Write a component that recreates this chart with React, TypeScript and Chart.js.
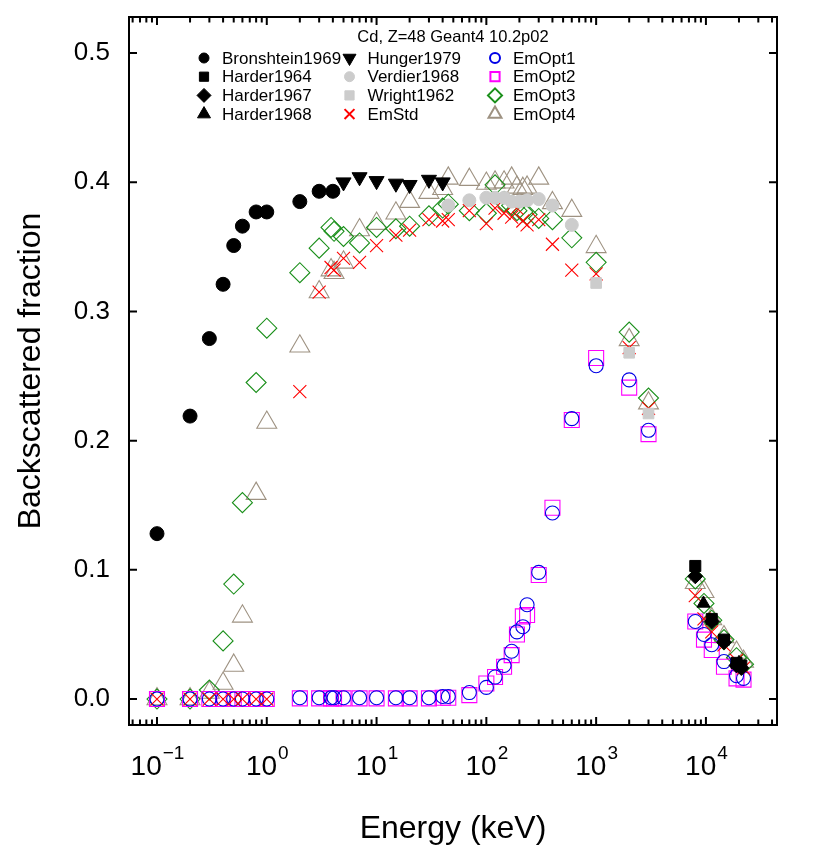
import React, { useEffect, useRef } from 'react';
import { Chart, registerables } from 'chart.js';
import { drawPoint } from 'chart.js/helpers';

Chart.register(...registerables);

const FONT = '"Liberation Sans", Arial, Helvetica, sans-serif';
const TITLE = 'Cd, Z=48 Geant4 10.2p02';

// ---------- experimental data ----------
const bronshteinE = [0.1, 0.2, 0.3, 0.4, 0.5, 0.6, 0.8, 1, 2, 3, 4];
const bronshteinY = [0.128, 0.219, 0.279, 0.321, 0.351, 0.366, 0.377, 0.377, 0.385, 0.393, 0.393];

const harder1964E = [8000, 11300, 14600, 19000, 21000];
const harder1964Y = [0.103, 0.062, 0.046, 0.028, 0.026];

const harder1967E = [8000, 11300, 14600, 19000, 21000];
const harder1967Y = [0.095, 0.060, 0.044, 0.026, 0.024];

const harder1968E = [9500, 20000];
const harder1968Y = [0.074, 0.028];

const hungerE = [5, 7, 10, 15, 20, 30, 40];
const hungerY = [0.400, 0.404, 0.401, 0.399, 0.398, 0.402, 0.400];

const verdierE = [45, 70, 100, 120, 145, 170, 200, 235, 300, 400, 600];
const verdierY = [0.382, 0.386, 0.388, 0.388, 0.388, 0.385, 0.385, 0.386, 0.387, 0.382, 0.367];

const wrightE = [1000, 2000, 3000];
const wrightY = [0.322, 0.268, 0.221];

// ---------- simulations ----------
const simE = [
  0.1, 0.2, 0.3, 0.4, 0.5, 0.6, 0.8, 1,
  2, 3, 3.85, 4.1, 5, 7, 10, 15, 20, 30, 40, 45,
  70, 100, 120, 145, 170, 190, 215, 235, 300, 400, 600, 1000, 2000, 3000,
  8000, 9600, 11300, 14600, 19000, 22000,
];
const emStdY = [
  0, 0, 0, 0, 0, 0, 0, 0,
  0.238, 0.315, 0.334, 0.332, 0.341, 0.338, 0.351, 0.359, 0.363, 0.371, 0.370, 0.371,
  0.378, 0.368, 0.380, 0.376, 0.373, 0.380, 0.370, 0.367, 0.371, 0.352, 0.332, 0.329, 0.272, 0.225,
  0.080, 0.062, 0.052, 0.042, 0.030, 0.024,
];
const emOpt1Y = [
  0, 0, 0, 0, 0, 0, 0, 0,
  0.001, 0.001, 0.001, 0.001, 0.001, 0.001, 0.001, 0.001, 0.001, 0.001, 0.002, 0.002,
  0.005, 0.009, 0.017, 0.026, 0.037, 0.052, 0.056, 0.073, 0.098, 0.144, 0.217, 0.258, 0.247, 0.208,
  0.060, 0.050, 0.042, 0.029, 0.018, 0.016,
];
const emOpt2Y = [
  0, 0, 0, 0, 0, 0, 0, 0,
  0.0005, 0.0005, 0.0005, 0.0005, 0.0005, 0.0005, 0.0005, 0.0005, 0.0005, 0.0005, 0.001, 0.001,
  0.003, 0.012, 0.017, 0.025, 0.034, 0.050, 0.064, 0.065, 0.096, 0.148, 0.216, 0.264, 0.241, 0.205,
  0.060, 0.046, 0.038, 0.025, 0.016, 0.015,
];
const emOpt3Y = [
  0, 0, 0.007, 0.045, 0.089, 0.152, 0.245, 0.287,
  0.330, 0.349, 0.365, 0.362, 0.358, 0.353, 0.365, 0.364, 0.366, 0.374, 0.380, 0.383,
  0.378, 0.376, 0.398, 0.385, 0.382, 0.378, 0.377, 0.375, 0.372, 0.371, 0.357, 0.338, 0.284, 0.233,
  0.093, 0.074, 0.061, 0.046, 0.032, 0.027,
];
const emOpt4Y = [
  0, 0, 0.005, 0.012, 0.026, 0.064, 0.159, 0.214,
  0.273, 0.315, 0.332, 0.330, 0.338, 0.363, 0.368, 0.376, 0.385, 0.392, 0.395, 0.403,
  0.402, 0.399, 0.400, 0.400, 0.403, 0.396, 0.395, 0.396, 0.403, 0.384, 0.378, 0.350, 0.278, 0.229,
  0.090, 0.083, 0.062, 0.048, 0.036, 0.029,
];

// ---------- axes ----------
const xMin = 0.0556;
const xMax = 44400;
const yMin = -0.0201;
const yMax = 0.5279;
const xDecades = [0.1, 1, 10, 100, 1000, 10000];
const xExponents = ['\u22121', '0', '1', '2', '3', '4'];
const yTicks = [0, 0.1, 0.2, 0.3, 0.4, 0.5];

const pts = (E: number[], Y: number[]) => E.map((e, i) => ({ x: e, y: Y[i] }));

const BLUE = '#0000e6';
const MAGENTA = '#ff00ff';
const GREEN = '#1a8f1a';
const TAN = '#9e9282';
const GREY = '#cccccc';
const RED = '#ff0000';

type Spec = {
  label: string; E: number[]; Y: number[]; style: string; r: number; rot?: number;
  color: string; filled: boolean; lw: number; lr: number;
};

const specs: Spec[] = [
  { label: 'Bronshtein1969', E: bronshteinE, Y: bronshteinY, style: 'circle', r: 7, color: '#000', filled: true, lw: 1, lr: 5 },
  { label: 'Harder1964', E: harder1964E, Y: harder1964Y, style: 'rect', r: 7.8, color: '#000', filled: true, lw: 1, lr: 6.5 },
  { label: 'Harder1967', E: harder1967E, Y: harder1967Y, style: 'rectRot', r: 7.5, color: '#000', filled: true, lw: 1, lr: 7 },
  { label: 'Harder1968', E: harder1968E, Y: harder1968Y, style: 'triangle', r: 7.5, color: '#000', filled: true, lw: 1, lr: 7.5 },
  { label: 'Hunger1979', E: hungerE, Y: hungerY, style: 'triangle', rot: 180, r: 8.7, color: '#000', filled: true, lw: 1, lr: 7.5 },
  { label: 'Verdier1968', E: verdierE, Y: verdierY, style: 'circle', r: 6.5, color: GREY, filled: true, lw: 1, lr: 5 },
  { label: 'Wright1962', E: wrightE, Y: wrightY, style: 'rect', r: 7.5, color: GREY, filled: true, lw: 1, lr: 6.5 },
  { label: 'EmStd', E: simE, Y: emStdY, style: 'crossRot', r: 9.2, color: RED, filled: false, lw: 1.1, lr: 7 },
  { label: 'EmOpt1', E: simE, Y: emOpt1Y, style: 'circle', r: 7, color: BLUE, filled: false, lw: 1.1, lr: 5 },
  { label: 'EmOpt2', E: simE, Y: emOpt2Y, style: 'rect', r: 10.6, color: MAGENTA, filled: false, lw: 1.1, lr: 6.5 },
  { label: 'EmOpt3', E: simE, Y: emOpt3Y, style: 'rectRot', r: 10, color: GREEN, filled: false, lw: 1.1, lr: 7 },
  { label: 'EmOpt4', E: simE, Y: emOpt4Y, style: 'triangle', r: 11.5, color: TAN, filled: false, lw: 1.1, lr: 7.5 },
];

const framePlugin = {
  id: 'frame',
  afterDraw(chart: any) {
    const ctx = chart.ctx as CanvasRenderingContext2D;
    const ca = chart.chartArea;
    const xs = chart.scales.x;
    const ys = chart.scales.y;
    ctx.save();
    ctx.strokeStyle = '#000';
    ctx.lineWidth = 2;
    // x ticks (inward, bottom & top)
    xs.ticks.forEach((t: any) => {
      const px = xs.getPixelForValue(t.value);
      const lg = Math.log10(t.value);
      const major = Math.abs(lg - Math.round(lg)) < 1e-6;
      const len = major ? 8 : 5.5;
      ctx.beginPath();
      ctx.moveTo(px, ca.bottom); ctx.lineTo(px, ca.bottom - len);
      ctx.moveTo(px, ca.top); ctx.lineTo(px, ca.top + len);
      ctx.stroke();
    });
    ys.ticks.forEach((t: any) => {
      const py = ys.getPixelForValue(t.value);
      ctx.beginPath();
      ctx.moveTo(ca.left, py); ctx.lineTo(ca.left + 8, py);
      ctx.moveTo(ca.right, py); ctx.lineTo(ca.right - 8, py);
      ctx.stroke();
    });
    ctx.strokeRect(ca.left, ca.top, ca.right - ca.left, ca.bottom - ca.top);

    // x labels 10^n
    ctx.fillStyle = '#000';
    ctx.textBaseline = 'alphabetic';
    ctx.textAlign = 'left';
    xDecades.forEach((v, i) => {
      const px = xs.getPixelForValue(v);
      ctx.font = `28px ${FONT}`;
      const w1 = ctx.measureText('10').width;
      ctx.font = `19px ${FONT}`;
      const w2 = ctx.measureText(xExponents[i]).width;
      const x0 = px - (w1 + w2) / 2;
      ctx.font = `28px ${FONT}`;
      ctx.fillText('10', x0, 767);
      ctx.font = `19px ${FONT}`;
      ctx.fillText(xExponents[i], x0 + w1 + 1, 751);
    });

    // title + legend
    ctx.textAlign = 'center';
    ctx.textBaseline = 'middle';
    ctx.font = `16.5px ${FONT}`;
    ctx.fillText(TITLE, (ca.left + ca.right) / 2, 29);
    ctx.textAlign = 'left';
    ctx.font = `17px ${FONT}`;
    specs.forEach((s, i) => {
      const col = Math.floor(i / 4);
      const row = i % 4;
      const sx = 196 + col * 145.5;
      const sy = 50 + row * 18.7;
      ctx.save();
      ctx.fillStyle = s.filled ? s.color : 'rgba(0,0,0,0)';
      ctx.strokeStyle = s.color;
      ctx.lineWidth = s.filled ? 1 : 2;
      drawPoint(ctx, { pointStyle: s.style as any, radius: s.lr, rotation: s.rot || 0, borderWidth: ctx.lineWidth }, sx, sy);
      ctx.restore();
      ctx.fillStyle = '#000';
      ctx.fillText(s.label, sx + 18, sy + 1);
    });
    ctx.restore();
  },
};

export default function App() {
  const ref = useRef<HTMLCanvasElement | null>(null);
  useEffect(() => {
    if (!ref.current) return;
    const minor: number[] = [];
    [0.01, 0.1, 1, 10, 100, 1000, 10000].forEach((d) => {
      for (let m = 1; m <= 9; m++) {
        const v = m * d;
        if (v >= xMin && v <= xMax) minor.push(v);
      }
    });
    const chart = new Chart(ref.current, {
      type: 'scatter',
      data: {
        datasets: specs.map((s) => ({
          label: s.label,
          data: pts(s.E, s.Y),
          showLine: false,
          pointStyle: s.style as any,
          pointRadius: s.r,
          pointHoverRadius: s.r,
          pointRotation: s.rot || 0,
          borderColor: s.color,
          backgroundColor: s.filled ? s.color : 'rgba(0,0,0,0)',
          pointBorderWidth: s.lw,
          borderWidth: s.lw,
        })),
      },
      options: {
        animation: false,
        responsive: true,
        maintainAspectRatio: false,
        layout: { autoPadding: false, padding: { left: 0, right: 45, top: 9, bottom: 0 } },
        plugins: { legend: { display: false }, tooltip: { enabled: false } },
        scales: {
          x: {
            type: 'logarithmic',
            min: xMin,
            max: xMax,
            grid: { display: false, drawTicks: false },
            border: { display: false },
            ticks: { display: false },
            afterBuildTicks: (s: any) => { s.ticks = minor.map((v) => ({ value: v })); },
            afterFit: (s: any) => { s.height = 133; s.paddingLeft = 0; s.paddingRight = 0; },
            title: {
              display: true,
              text: 'Energy (keV)',
              color: '#000',
              font: { family: FONT, size: 32 },
              padding: { top: 0, bottom: 10 },
            },
          },
          y: {
            type: 'linear',
            min: yMin,
            max: yMax,
            grid: { display: false, drawTicks: false },
            border: { display: false },
            afterBuildTicks: (s: any) => { s.ticks = yTicks.map((v) => ({ value: v })); },
            afterFit: (s: any) => { s.width = 121; s.paddingTop = 0; s.paddingBottom = 0; },
            ticks: {
              color: '#000',
              padding: 19,
              font: { family: FONT, size: 26 },
              callback: (v: any) => Number(v).toFixed(1),
            },
            title: {
              display: true,
              text: 'Backscattered fraction',
              color: '#000',
              font: { family: FONT, size: 32 },
              padding: { top: 4, bottom: 0 },
            },
          },
        },
      },
      plugins: [framePlugin],
    });
    return () => chart.destroy();
  }, []);
  return (
    <div style={{ position: 'relative', width: 814, height: 850 }}>
      <canvas ref={ref} />
    </div>
  );
}
